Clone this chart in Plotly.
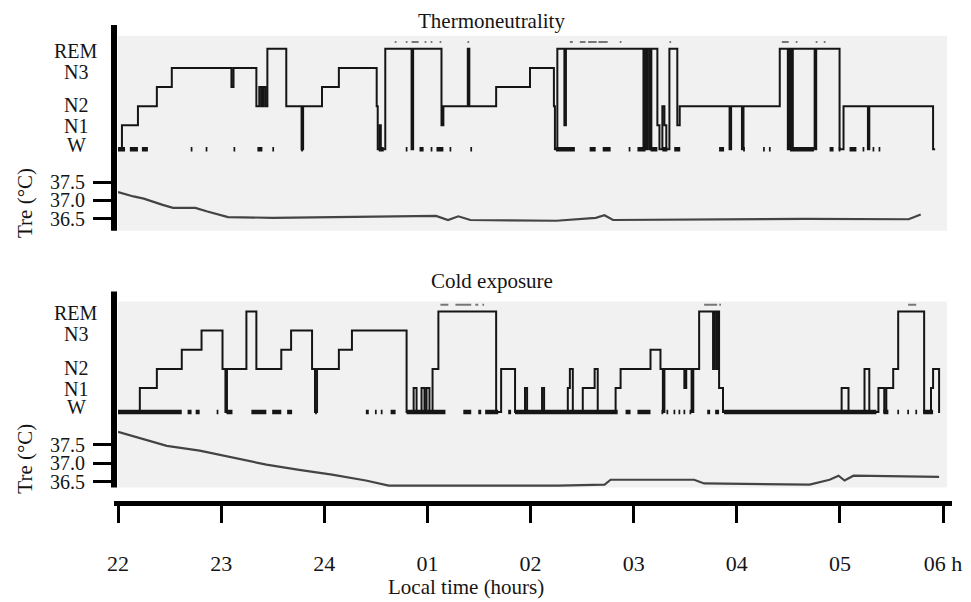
import plotly.graph_objects as go

# ---------------- data (time in minutes after 22:00) ----------------
TICK_MIN = [0, 60, 120, 180, 240, 300, 360, 420, 480]
TICK_LABELS = ["22", "23", "24", "01", "02", "03", "04", "05", "06 h"]
STAGE_LABELS = ["REM", "N3", "N2", "N1", "W"]
TEMP_TICKS = [36.5, 37.0, 37.5]
TEMP_TICK_LABELS = ["36.5", "37.0", "37.5"]

TOP_HYPNOGRAM = [
    (0.0, "W"), (2.3, "N1"), (11.6, "N2"), (22.6, "S3"), (31.3, "S4"),
    (66.0, "S3"), (67.2, "S4"), (80.5, "N2"), (82.2, "S3"), (83.4, "N2"),
    (84.5, "S3"), (85.7, "N2"), (86.9, "REM"), (97.9, "N2"), (106.8, "W"),
    (107.7, "N2"), (118.7, "S3"), (128.5, "S4"), (150.5, "N2"), (151.1, "W"),
    (152.3, "N1"), (152.9, "W"), (155.5, "REM"), (170.8, "W"), (171.7, "REM"),
    (188.2, "N1"), (189.3, "N2"), (203.5, "REM"), (204.4, "N2"), (220.0, "S3"),
    (239.7, "S4"), (253.6, "N2"), (254.2, "W"), (255.6, "REM"), (259.7, "N1"),
    (260.6, "REM"), (305.7, "W"), (306.6, "REM"), (307.4, "W"), (308.3, "REM"),
    (309.5, "W"), (310.3, "REM"), (313.8, "N1"), (315.0, "W"), (316.7, "N2"),
    (317.9, "N1"), (319.0, "W"), (320.8, "REM"), (325.4, "N1"), (326.8, "N2"),
    (355.8, "W"), (356.7, "N2"), (363.0, "W"), (363.9, "N2"), (385.0, "REM"),
    (389.7, "W"), (390.8, "REM"), (391.7, "W"), (392.6, "REM"), (405.3, "W"),
    (406.2, "REM"), (419.8, "W"), (422.1, "N2"), (436.3, "W"), (437.1, "N2"),
    (474.2, "W"), (475.4, "W"),
]

BOTTOM_HYPNOGRAM = [
    (0.0, "W"), (12.7, "N1"), (22.6, "N2"), (37.1, "S3"), (48.6, "S4"),
    (60.8, "N2"), (62.5, "W"), (63.4, "N2"), (74.7, "REM"), (80.5, "N2"),
    (95.0, "S3"), (100.7, "S4"), (112.9, "N2"), (114.6, "W"), (115.8, "N2"),
    (128.5, "S3"), (136.1, "S4"), (167.9, "W"), (172.0, "N1"), (173.7, "W"),
    (176.6, "N1"), (178.3, "W"), (179.5, "N1"), (181.2, "W"), (183.0, "N2"),
    (186.4, "REM"), (220.0, "W"), (222.9, "N2"), (231.0, "W"), (236.8, "N1"),
    (238.0, "W"), (246.7, "N1"), (247.9, "W"), (261.7, "N1"), (262.9, "N2"),
    (264.6, "W"), (270.4, "N1"), (277.3, "N2"), (279.1, "W"), (289.5, "N1"),
    (292.4, "N2"), (309.8, "S3"), (315.6, "N2"), (317.0, "W"), (317.9, "N2"),
    (329.5, "N1"), (330.6, "N2"), (333.7, "W"), (334.7, "N2"), (338.1, "REM"),
    (346.2, "N2"), (346.8, "REM"), (348.0, "N2"), (348.6, "REM"), (349.7, "N1"),
    (352.0, "W"), (421.0, "N1"), (425.0, "W"), (434.3, "N2"), (437.1, "W"),
    (442.4, "N1"), (445.8, "W"), (447.0, "N1"), (451.0, "N2"), (453.9, "REM"),
    (469.0, "W"), (473.0, "N1"), (474.2, "N2"), (477.7, "W"), (478.3, "W"),
]

TOP_WAKE_MARKS = [
    (0.0, 4.1), (6.9, 11.6), (13.9, 17.4), (42.3, 43.3), (51.0, 52.0),
    (67.2, 68.2), (81.1, 84.0), (89.8, 90.8), (106.6, 107.6), (151.7, 154.6),
    (167.4, 168.4), (175.4, 177.8), (181.9, 182.9), (185.3, 189.3), (192.9, 193.9),
    (205.0, 206.0), (254.8, 265.8), (274.4, 277.9), (282.0, 286.6), (297.1, 298.1),
    (302.2, 306.9), (309.8, 313.8), (316.7, 319.6), (323.6, 327.1), (349.7, 352.6),
    (363.7, 364.7), (375.3, 376.3), (378.7, 379.7), (391.0, 404.9), (414.0, 416.3),
    (419.3, 420.3), (425.6, 429.6), (433.2, 434.2), (439.0, 440.0), (442.5, 443.5),
]
TOP_REM_MARKS = [
    (161.0, 162.0), (167.4, 168.4), (170.8, 174.9), (178.4, 179.4), (181.9, 182.9),
    (187.1, 188.1), (203.3, 204.3), (262.9, 264.6), (268.7, 272.0), (273.5, 278.5),
    (279.5, 284.9), (291.9, 292.9), (320.8, 321.8), (386.2, 390.2), (394.3, 395.3),
    (405.9, 406.9), (410.6, 411.6),
]
BOTTOM_WAKE_MARKS = [
    (0.0, 37.1), (40.5, 42.8), (45.2, 47.5), (57.4, 58.4), (63.1, 66.6),
    (77.6, 86.3), (89.7, 95.0), (98.4, 101.3), (114.7, 115.7), (144.2, 145.9),
    (149.5, 150.5), (152.9, 153.9), (158.6, 161.5), (167.9, 190.5), (200.9, 205.5),
    (209.6, 211.3), (213.6, 221.2), (227.0, 228.7), (231.0, 290.7), (295.3, 298.2),
    (302.2, 309.8), (316.2, 317.2), (319.1, 320.1), (323.2, 324.2), (326.1, 327.1),
    (329.0, 330.0), (332.5, 333.5), (342.8, 344.5), (347.4, 349.7), (352.6, 441.2),
    (445.3, 448.2), (453.4, 454.4), (459.2, 460.2), (463.9, 464.9), (468.4, 474.2),
]
BOTTOM_REM_MARKS = [
    (187.6, 192.2), (196.3, 205.5), (207.9, 209.6), (212.0, 213.0),
    (341.0, 348.6), (349.8, 350.8), (459.7, 464.4),
]

TOP_TEMP_T = [0, 5, 9, 15, 20, 26, 32, 45, 52, 60, 64, 90, 125, 185, 192, 198,
              205, 255, 278, 283, 288, 345, 400, 460, 467]
TOP_TEMP_V = [37.23, 37.16, 37.11, 37.05, 36.97, 36.88, 36.80, 36.80, 36.70, 36.60,
              36.55, 36.53, 36.55, 36.58, 36.47, 36.57, 36.47, 36.45, 36.53, 36.60,
              36.47, 36.49, 36.50, 36.49, 36.62]
BOTTOM_TEMP_T = [0, 8.7, 28.4, 47.5, 66.6, 86.3, 105.4, 124.5, 144.2, 157.5, 255.9,
                 283.1, 286.6, 335.2, 341.0, 402.4, 414.0, 419.2, 422.7, 427.9, 477.7]
BOTTOM_TEMP_V = [37.85, 37.74, 37.47, 37.34, 37.15, 36.96, 36.82, 36.69, 36.53, 36.39,
                 36.39, 36.42, 36.55, 36.55, 36.45, 36.42, 36.55, 36.66, 36.53, 36.66,
                 36.63]

# ---------------- layout helpers ----------------
FIG_W, FIG_H = 971, 602
M_L, M_R = 118, 24
PLOT_W = FIG_W - M_L - M_R
X_MAX = 482.3
FONT = "Liberation Serif"
INK = "#151515"

STAGE_Y = {"W": -0.25, "N1": 1, "N2": 2, "S3": 3, "S4": 4, "REM": 5}
LABEL_Y = {"REM": 4.9, "N3": 3.8, "N2": 2.06, "N1": 0.95, "W": 0.0}
REM_MARK_Y = 5.35
UNIT = 19.25  # px per stage step


def pyp(px):
    return 1 - px / FIG_H


def pxp(px):
    return (px - M_L) / PLOT_W


def hyp_axis(top_px, bot_px, rem_px):
    return dict(domain=[pyp(bot_px), pyp(top_px)],
                range=[5 - (bot_px - rem_px) / UNIT, 5 + (rem_px - top_px) / UNIT])


def temp_axis(top_px, bot_px, px375, px365):
    k = px365 - px375
    return dict(domain=[pyp(bot_px), pyp(top_px)],
                range=[36.5 - (bot_px - px365) / k, 37.5 + (px375 - top_px) / k])


def segs(marks, yv):
    xs, ys = [], []
    for a, b in marks:
        xs += [a, b, None]
        ys += [yv, yv, None]
    return xs, ys


fig = go.Figure()

panels = [
    ("y", "y2", TOP_HYPNOGRAM, TOP_WAKE_MARKS, TOP_REM_MARKS, TOP_TEMP_T, TOP_TEMP_V),
    ("y3", "y4", BOTTOM_HYPNOGRAM, BOTTOM_WAKE_MARKS, BOTTOM_REM_MARKS, BOTTOM_TEMP_T, BOTTOM_TEMP_V),
]
for hy, ty, hyp, wake, rem, tt, tv in panels:
    fig.add_trace(go.Scatter(x=[p[0] for p in hyp], y=[STAGE_Y[p[1]] for p in hyp],
                             mode="lines", line=dict(color=INK, width=2, shape="hv"),
                             yaxis=hy, showlegend=False, hoverinfo="skip"))
    wx, wy = segs(wake, STAGE_Y["W"])
    fig.add_trace(go.Scatter(x=wx, y=wy, mode="lines", line=dict(color=INK, width=4.5),
                             yaxis=hy, showlegend=False, hoverinfo="skip"))
    rx, ry = segs(rem, REM_MARK_Y)
    fig.add_trace(go.Scatter(x=rx, y=ry, mode="lines", line=dict(color="#777777", width=2),
                             yaxis=hy, showlegend=False, hoverinfo="skip"))
    fig.add_trace(go.Scatter(x=tt, y=tv, mode="lines", line=dict(color="#444444", width=2.2),
                             yaxis=ty, showlegend=False, hoverinfo="skip"))

hyp_common = dict(showgrid=False, zeroline=False, showline=False, showticklabels=False,
                  ticks="", anchor="x", fixedrange=True)
temp_common = dict(showgrid=False, zeroline=False, showline=False, anchor="x",
                   tickvals=TEMP_TICKS, ticktext=TEMP_TICK_LABELS, ticks="outside",
                   ticklen=24, tickwidth=3, tickcolor="black", ticklabelstandoff=4,
                   tickfont=dict(family=FONT, size=20, color=INK), fixedrange=True)

annotations = []
for txt, xpx, ypx in [("Thermoneutrality", 491, 21), ("Cold exposure", 492, 282),
                      ("Local time (hours)", 466, 590)]:
    annotations.append(dict(text=txt, x=pxp(xpx), y=pyp(ypx), xref="paper", yref="paper",
                            showarrow=False, xanchor="center", yanchor="middle",
                            font=dict(family=FONT, size=21, color=INK)))
for ypx in (204, 461):
    annotations.append(dict(text="Tre (°C)", x=pxp(25), y=pyp(ypx), xref="paper", yref="paper",
                            showarrow=False, textangle=-90, xanchor="center", yanchor="middle",
                            font=dict(family=FONT, size=21, color=INK)))
for yref in ("y", "y3"):
    for lab in STAGE_LABELS:
        annotations.append(dict(text=lab, x=pxp(76), y=LABEL_Y[lab], xref="paper", yref=yref,
                                showarrow=False, xanchor="center", yanchor="middle",
                                font=dict(family=FONT, size=20, color=INK)))

shapes = []
for top_px, bot_px in [(36, 232), (303, 490)]:
    shapes.append(dict(type="rect", xref="paper", yref="paper", x0=0, x1=1,
                       y0=pyp(bot_px), y1=pyp(top_px), fillcolor="#f1f1f1",
                       line=dict(width=0), layer="below"))
for top_px, bot_px in [(25, 232), (293, 490)]:
    shapes.append(dict(type="line", xref="paper", yref="paper", x0=pxp(114), x1=pxp(114),
                       y0=pyp(bot_px), y1=pyp(top_px), line=dict(color="black", width=6)))
shapes.append(dict(type="line", xref="paper", yref="paper", x0=pxp(114), x1=pxp(952),
                   y0=pyp(506), y1=pyp(506), line=dict(color="black", width=5)))

fig.update_layout(
    width=FIG_W, height=FIG_H,
    margin=dict(l=M_L, r=M_R, t=0, b=0),
    paper_bgcolor="white", plot_bgcolor="white",
    showlegend=False,
    xaxis=dict(domain=[0, 1], range=[0, X_MAX], anchor="free", position=pyp(506),
               tickvals=TICK_MIN, ticktext=TICK_LABELS, ticks="outside", ticklen=19,
               tickwidth=3, tickcolor="black", showgrid=False, zeroline=False,
               showline=False, ticklabelstandoff=21,
               tickfont=dict(family=FONT, size=22, color=INK), fixedrange=True),
    yaxis=dict(**hyp_axis(30, 170, 49), **hyp_common),
    yaxis2=dict(**temp_axis(170, 232, 183, 220), **temp_common),
    yaxis3=dict(**hyp_axis(294, 430, 313), **hyp_common),
    yaxis4=dict(**temp_axis(430, 492, 447, 484), **temp_common),
    annotations=annotations,
    shapes=shapes,
)

fig.write_html(
    "out.html",
    config={"displayModeBar": False},
    post_script="document.body.style.margin='0';document.body.style.overflow='hidden';",
)
